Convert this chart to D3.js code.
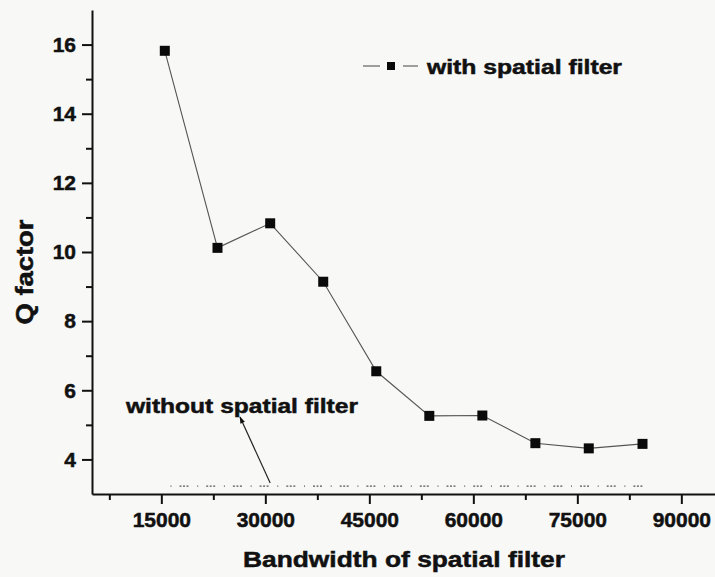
<!DOCTYPE html>
<html>
<head>
<meta charset="utf-8">
<script src="https://cdn.jsdelivr.net/npm/d3@7"></script>
<style>
  body { margin: 0; background: #f8f8f6; }
  svg { display: block; font-family: "Liberation Sans", Arial, sans-serif; font-weight: bold; }
  svg text { stroke: #111; stroke-width: 0.5px; }
</style>
</head>
<body>
<script>
// values
var bandwidth = [15500, 23100, 30700, 38350, 46000, 53650, 61300, 68950, 76650, 84400];
var qWith = [15.82, 10.12, 10.83, 9.14, 6.55, 5.26, 5.27, 4.47, 4.32, 4.45];
var qWithout = [3.23, 3.23, 3.23, 3.23, 3.23, 3.23, 3.23, 3.23, 3.23, 3.23];
var xTicks = [15000, 30000, 45000, 60000, 75000, 90000];
var xMinor = [7500, 22500, 37500, 52500, 67500, 82500];
var yTicks = [4, 6, 8, 10, 12, 14, 16];
var yMinor = [5, 7, 9, 11, 13, 15];

// note: "top" is taken by window.top, so the margins get other names
var w = 715, h = 577,
	x0 = 92, x1 = 716, y0 = 494, y1 = 10;

var svg = d3.select('body').append('svg')
	.attr('width', w)
	.attr('height', h);

var x = d3.scaleLinear().domain([5000, 95000]).range([x0, x1]);
var y = d3.scaleLinear().domain([3, 17]).range([y0, y1]);

// minor ticks first, then the main axes on top
svg.append('g')
	.attr('transform', 'translate(0,' + y0 + ')')
	.call(d3.axisBottom(x).tickValues(xMinor).tickSize(6).tickSizeOuter(0).tickFormat(''))
	.call(function(g) { g.select('.domain').remove(); });

svg.append('g')
	.attr('transform', 'translate(' + x0 + ',0)')
	.call(d3.axisLeft(y).tickValues(yMinor).tickSize(6).tickSizeOuter(0).tickFormat(''))
	.call(function(g) { g.select('.domain').remove(); });

svg.append('g')
	.attr('transform', 'translate(0,' + y0 + ')')
	.call(d3.axisBottom(x).tickValues(xTicks).tickSize(10).tickPadding(8).tickSizeOuter(0).tickFormat(d3.format('d')));

svg.append('g')
	.attr('transform', 'translate(' + x0 + ',0)')
	.call(d3.axisLeft(y).tickValues(yTicks).tickSize(10).tickPadding(6).tickSizeOuter(0));

svg.selectAll('.tick line, .domain')
	.attr('stroke', '#111')
	.attr('stroke-width', 2);

svg.selectAll('.tick text')
	.attr('fill', '#111')
	.style('font-size', '21px')
	.style('font-family', '"Liberation Sans", Arial, sans-serif')
	.style('font-weight', 'bold');

// series without spatial filter: sparse dotted line near the bottom
var line = d3.line()
	.x(function(d) { return x(d[0]); })
	.y(function(d) { return y(d[1]); });

svg.append('path')
	.datum(d3.zip(bandwidth, qWithout))
	.attr('d', line)
	.attr('fill', 'none')
	.attr('stroke', '#555')
	.attr('stroke-width', 1.3)
	.attr('stroke-dasharray', '1,8,2,1.5,2,1.5,2,8.7')
	.attr('stroke-dashoffset', 21);

// series with spatial filter
svg.append('path')
	.datum(d3.zip(bandwidth, qWith))
	.attr('d', line)
	.attr('fill', 'none')
	.attr('stroke', '#555')
	.attr('stroke-width', 1.1);

var s = 10;
svg.selectAll('.pt')
	.data(d3.zip(bandwidth, qWith))
	.enter().append('rect')
		.attr('class', 'pt')
		.attr('x', function(d) { return x(d[0]) - s / 2; })
		.attr('y', function(d) { return y(d[1]) - s / 2; })
		.attr('width', s)
		.attr('height', s)
		.attr('fill', '#0a0a0a');

// legend
var lg = svg.append('g').attr('transform', 'translate(391,66)');
lg.append('line').attr('x1', -28).attr('x2', -11).attr('stroke', '#555').attr('stroke-width', 1.1);
lg.append('line').attr('x1', 12).attr('x2', 27).attr('stroke', '#555').attr('stroke-width', 1.1);
lg.append('rect').attr('x', -4).attr('y', -4).attr('width', 8).attr('height', 8).attr('fill', '#0a0a0a');
lg.append('text')
	.attr('x', 36)
	.attr('y', 8)
	.attr('textLength', 195)
	.attr('lengthAdjust', 'spacingAndGlyphs')
	.style('font-size', '20px')
	.attr('fill', '#111')
	.text('with spatial filter');

// annotation for the lower series
svg.append('defs').append('marker')
	.attr('id', 'arrow')
	.attr('viewBox', '0 0 10 10')
	.attr('refX', 9).attr('refY', 5)
	.attr('markerWidth', 10).attr('markerHeight', 7)
	.attr('markerUnits', 'userSpaceOnUse')
	.attr('orient', 'auto')
	.append('path')
		.attr('d', 'M0,1.5L10,5L0,8.5Z')
		.attr('fill', '#111');

svg.append('line')
	.attr('x1', x(bandwidth[2])).attr('y1', y(qWithout[2]) - 3)
	.attr('x2', 240).attr('y2', 417)
	.attr('stroke', '#222')
	.attr('stroke-width', 1.2)
	.attr('marker-end', 'url(#arrow)');

svg.append('text')
	.attr('x', 126)
	.attr('y', 413)
	.attr('textLength', 232)
	.attr('lengthAdjust', 'spacingAndGlyphs')
	.style('font-size', '21px')
	.attr('fill', '#111')
	.text('without spatial filter');

// axis titles
svg.append('text')
	.attr('x', (x0 + x1) / 2)
	.attr('y', 567)
	.attr('text-anchor', 'middle')
	.attr('textLength', 322)
	.attr('lengthAdjust', 'spacingAndGlyphs')
	.style('font-size', '22px')
	.attr('fill', '#111')
	.text('Bandwidth of spatial filter');

svg.append('text')
	.attr('transform', 'translate(33,272)rotate(-90)')
	.attr('text-anchor', 'middle')
	.attr('textLength', 105)
	.attr('lengthAdjust', 'spacingAndGlyphs')
	.style('font-size', '24px')
	.attr('fill', '#111')
	.text('Q factor');
</script>
</body>
</html>
